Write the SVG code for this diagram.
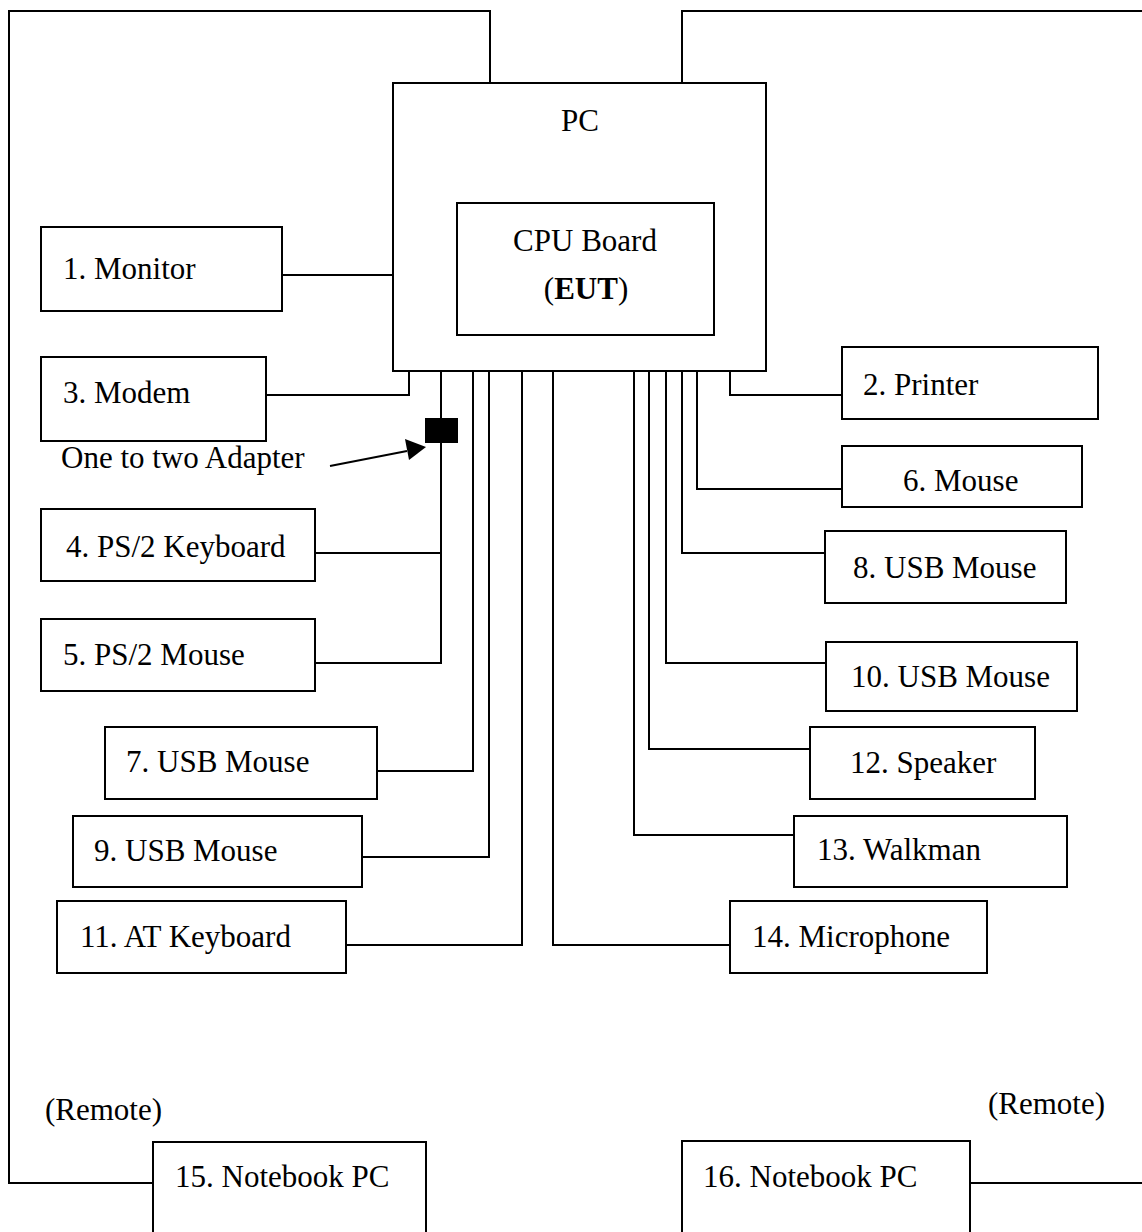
<svg xmlns="http://www.w3.org/2000/svg" width="1142" height="1232" viewBox="0 0 1142 1232">
<style>
.b{fill:#fff;stroke:#000;stroke-width:2}
.c{fill:none;stroke:#000;stroke-width:2}
text{font-family:"Liberation Serif","Times New Roman",serif;font-size:31px;fill:#000}
.m{text-anchor:middle}
</style>
<defs>
<marker id="ah" markerWidth="10" markerHeight="10" refX="9" refY="5" orient="auto" markerUnits="userSpaceOnUse" viewBox="0 0 10 10">
<path d="M0,0 L10,5 L0,10 z" fill="#000"/>
</marker>
</defs>
<rect width="1142" height="1232" fill="#fff"/>
<g id="connectors">
<path class="c" d="M490 83 V11 H9 V1183 H153"/>
<path class="c" d="M682 83 V11 H1150 V1183 H970"/>
<path class="c" d="M282 275 H393"/>
<path class="c" d="M266 395 H409 V371"/>
<path class="c" d="M441 371 V663 H315 M441 553 H315"/>
<path class="c" d="M473 371 V771 H377"/>
<path class="c" d="M489 371 V857 H362"/>
<path class="c" d="M522 371 V945 H346"/>
<path class="c" d="M553 371 V945 H730"/>
<path class="c" d="M634 371 V835 H794"/>
<path class="c" d="M649 371 V749 H810"/>
<path class="c" d="M666 371 V663 H826"/>
<path class="c" d="M682 371 V553 H825"/>
<path class="c" d="M697 371 V489 H842"/>
<path class="c" d="M730 371 V395 H842"/>
<line x1="330" y1="466" x2="407" y2="451" stroke="#000" stroke-width="2"/>
<path d="M426 447 L409 460 L405 439 z" fill="#000"/>
</g>
<g id="adapter"><rect x="425" y="418" width="33" height="25" fill="#000"/></g>
<text x="61" y="468">One to two Adapter</text>
<g id="pc"><rect class="b" x="393" y="83" width="373" height="288"/><text class="m" x="580" y="131">PC</text></g>
<g id="cpu"><rect class="b" x="457" y="203" width="257" height="132"/><text class="m" x="585" y="251">CPU Board</text><text class="m" x="586" y="299">(<tspan font-weight="bold">EUT</tspan>)</text></g>
<g id="n1"><rect class="b" x="41" y="227" width="241" height="84"/><text x="63" y="279">1. Monitor</text></g>
<g id="n3"><rect class="b" x="41" y="357" width="225" height="84"/><text x="63" y="403">3. Modem</text></g>
<g id="n4"><rect class="b" x="41" y="509" width="274" height="72"/><text x="66" y="557">4. PS/2 Keyboard</text></g>
<g id="n5"><rect class="b" x="41" y="619" width="274" height="72"/><text x="63" y="665">5. PS/2 Mouse</text></g>
<g id="n7"><rect class="b" x="105" y="727" width="272" height="72"/><text x="126" y="772">7. USB Mouse</text></g>
<g id="n9"><rect class="b" x="73" y="816" width="289" height="71"/><text x="94" y="861">9. USB Mouse</text></g>
<g id="n11"><rect class="b" x="57" y="901" width="289" height="72"/><text x="80" y="947">11. AT Keyboard</text></g>
<g id="n2"><rect class="b" x="842" y="347" width="256" height="72"/><text x="863" y="395">2. Printer</text></g>
<g id="n6"><rect class="b" x="842" y="446" width="240" height="61"/><text x="903" y="491">6. Mouse</text></g>
<g id="n8"><rect class="b" x="825" y="531" width="241" height="72"/><text x="853" y="578">8. USB Mouse</text></g>
<g id="n10"><rect class="b" x="826" y="642" width="251" height="69"/><text x="851" y="687">10. USB Mouse</text></g>
<g id="n12"><rect class="b" x="810" y="727" width="225" height="72"/><text x="850" y="773">12. Speaker</text></g>
<g id="n13"><rect class="b" x="794" y="816" width="273" height="71"/><text x="817" y="860">13. Walkman</text></g>
<g id="n14"><rect class="b" x="730" y="901" width="257" height="72"/><text x="752" y="947">14. Microphone</text></g>
<g id="n15"><rect class="b" x="153" y="1142" width="273" height="120"/><text x="175" y="1187">15. Notebook PC</text></g>
<g id="n16"><rect class="b" x="682" y="1141" width="288" height="120"/><text x="703" y="1187">16. Notebook PC</text></g>
<text x="45" y="1120">(Remote)</text>
<text x="988" y="1114">(Remote)</text>
</svg>
